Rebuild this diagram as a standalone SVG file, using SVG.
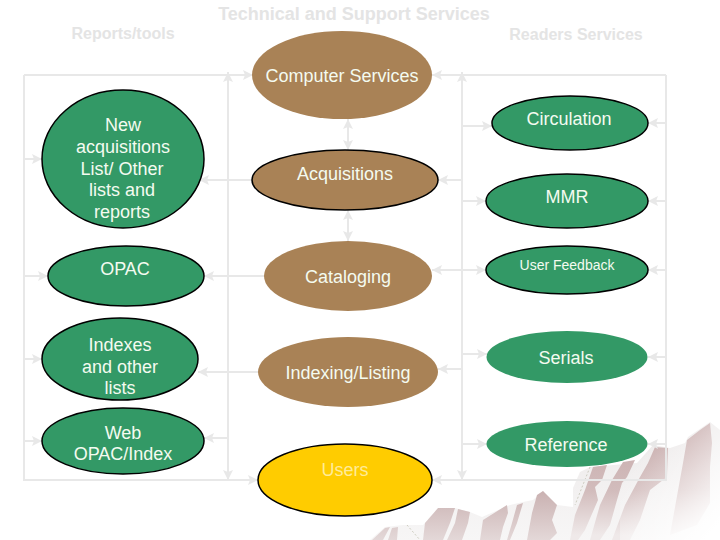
<svg xmlns="http://www.w3.org/2000/svg" width="720" height="540" viewBox="0 0 720 540">
<style>
text{font-family:"Liberation Sans",Arial,sans-serif;fill:#f4fbf0;font-size:18px;text-anchor:middle}
.t{font-weight:bold;fill:#e4e4e4}
.g{fill:#339966}.b{fill:#a98256}.y{fill:#ffcc00}
.s{stroke:#000;stroke-width:1.5}
#connectors path{fill:none;stroke:#e8e8e8;stroke-width:2}
</style>
<defs>
<marker id="a" markerUnits="userSpaceOnUse" markerWidth="11" markerHeight="10" refX="10" refY="5" orient="auto-start-reverse"><path d="M0 0L10 5L0 10L2 5Z" fill="#e8e8e8"/></marker>
<linearGradient id="m" gradientUnits="userSpaceOnUse" x1="0" y1="440" x2="0" y2="540"><stop offset="0" stop-color="#eeebeb"/><stop offset="1" stop-color="#f7f6f6"/></linearGradient>
<linearGradient id="r" gradientUnits="userSpaceOnUse" x1="0" y1="425" x2="0" y2="535"><stop offset="0" stop-color="#c7abab"/><stop offset="0.6" stop-color="#d2bcbc"/><stop offset="1" stop-color="#efe9e9"/></linearGradient>
<linearGradient id="l" gradientUnits="userSpaceOnUse" x1="0" y1="490" x2="0" y2="545"><stop offset="0" stop-color="#c9b0b0"/><stop offset="1" stop-color="#e6dcdc"/></linearGradient>
<linearGradient id="f" gradientUnits="userSpaceOnUse" x1="630" y1="470" x2="710" y2="535"><stop offset="0" stop-color="#fff" stop-opacity="0"/><stop offset="1" stop-color="#fff"/></linearGradient>
</defs>
<g id="mountains">
<path fill="url(#m)" d="M370 540L385 527L403 525L423 525L440 508L455 508L470 512L482 517L510 505L523 502L533 500L543 491L557 505L573 507L573 488L580 472L590 467L637 463L653 445L670 448L685 443L688 437L710 422L720 430V540Z"/>
<g fill="url(#l)">
<path d="M385 528L390 527L383 540H372Z"/><path d="M392 528L398 527L397 540H388Z"/>
<path d="M438 508L455 508L450 523L443 540H423L425 523Z"/>
<path d="M458 509L470 512L468 523L462 540H447L455 523Z"/>
<path d="M507 505L508 513L503 527L500 540H480L483 520Z"/>
<path d="M517 505L523 503L517 523L510 540H507L512 523Z"/>
<path d="M537 495L543 491L557 505L552 520L557 533L550 540H527L532 513Z"/>
</g>
<g fill="url(#r)">
<path d="M593 467L607 465L602 480L595 487L598 500L585 530L578 540H570L575 515L585 490Z"/>
<path d="M623 462L635 460L627 477L622 483L617 500L610 525L600 540H590L600 505L612 480Z"/>
<path d="M655 447L668 448L667 477L650 490L640 520L630 540H612L625 505L640 477L648 463Z"/>
<path d="M700 430L710 423L712 443L710 467L710 503L697 525L670 535L683 463L687 440Z"/>
</g>
<path fill="url(#f)" d="M620 420H720V540H620Z"/>
<path fill="none" stroke="#bba" stroke-width=".7" stroke-dasharray="2 2" d="M590 467L575 505M407 525L420 540"/>
</g>
<g id="titles">
<text class="t" x="354" y="20">Technical and Support Services</text>
<text class="t" x="123" y="39" style="font-size:16px">Reports/tools</text>
<text class="t" x="576" y="40" style="font-size:16px">Readers Services</text>
</g>
<g id="connectors">
<path marker-end="url(#a)" d="M24 75V480H258"/>
<path marker-end="url(#a)" d="M24 75H253"/>
<path marker-end="url(#a)" d="M666 75V480H432"/>
<path marker-end="url(#a)" d="M666 75H432"/>
<path marker-start="url(#a)" marker-end="url(#a)" d="M228 72V480"/>
<path marker-start="url(#a)" marker-end="url(#a)" d="M462 72V480"/>
<path marker-start="url(#a)" marker-end="url(#a)" d="M348 119V150"/>
<path marker-start="url(#a)" marker-end="url(#a)" d="M348 210V241"/>
<path marker-end="url(#a)" d="M24 159H42"/>
<path marker-end="url(#a)" d="M24 276H48"/>
<path marker-end="url(#a)" d="M24 359H42"/>
<path marker-end="url(#a)" d="M24 441H42"/>
<path marker-end="url(#a)" d="M252 180H199"/>
<path marker-end="url(#a)" d="M265 276H204"/>
<path marker-end="url(#a)" d="M259 372H198"/>
<path marker-end="url(#a)" d="M228 438H204"/>
<path marker-end="url(#a)" d="M462 180H438"/>
<path marker-end="url(#a)" d="M462 270H432"/>
<path marker-end="url(#a)" d="M462 369H438"/>
<path marker-end="url(#a)" d="M462 126H492"/>
<path marker-end="url(#a)" d="M462 201H486"/>
<path marker-end="url(#a)" d="M462 270H486"/>
<path marker-end="url(#a)" d="M462 354H487"/>
<path marker-end="url(#a)" d="M462 444H487"/>
<path marker-end="url(#a)" d="M666 123H648"/>
<path marker-end="url(#a)" d="M666 201H648"/>
<path marker-end="url(#a)" d="M666 270H648"/>
<path marker-end="url(#a)" d="M666 357H648"/>
<path marker-end="url(#a)" d="M666 444H648"/>
</g>
<g id="new-acquisitions"><ellipse class="g s" cx="123" cy="159" rx="81" ry="69"/><text x="123" y="131">New</text><text x="123" y="153">acquisitions</text><text x="122" y="175">List/ Other</text><text x="122" y="196">lists and</text><text x="122" y="218">reports</text></g>
<g id="opac"><ellipse class="g s" cx="126" cy="276" rx="78" ry="30"/><text x="125" y="275">OPAC</text></g>
<g id="indexes"><ellipse class="g s" cx="120" cy="359" rx="78" ry="41"/><text x="120" y="351">Indexes</text><text x="120" y="373">and other</text><text x="120" y="394">lists</text></g>
<g id="web-opac"><ellipse class="g s" cx="123" cy="441" rx="81" ry="33"/><text x="123" y="439">Web</text><text x="123" y="460">OPAC/Index</text></g>
<g id="computer-services"><ellipse class="b" cx="342" cy="75" rx="90" ry="44"/><text x="342" y="82">Computer Services</text></g>
<g id="acquisitions"><ellipse class="b s" cx="345" cy="180" rx="93" ry="30"/><text x="345" y="180">Acquisitions</text></g>
<g id="cataloging"><ellipse class="b" cx="348" cy="276" rx="84" ry="35"/><text x="348" y="283">Cataloging</text></g>
<g id="indexing"><ellipse class="b" cx="348" cy="372" rx="90" ry="35"/><text x="348" y="379">Indexing/Listing</text></g>
<g id="users"><ellipse class="y s" cx="345" cy="480" rx="87" ry="36"/><text x="345" y="476" style="fill:#ffeb99">Users</text></g>
<g id="circulation"><ellipse class="g s" cx="570" cy="123" rx="78" ry="27"/><text x="569" y="125">Circulation</text></g>
<g id="mmr"><ellipse class="g s" cx="567" cy="201" rx="81" ry="27"/><text x="567" y="203">MMR</text></g>
<g id="user-feedback"><ellipse class="g s" cx="567" cy="270" rx="81" ry="24"/><text x="567" y="270" style="font-size:14px">User Feedback</text></g>
<g id="serials"><ellipse class="g" cx="567" cy="357" rx="80.5" ry="26"/><text x="566" y="364">Serials</text></g>
<g id="reference"><ellipse class="g" cx="567" cy="444" rx="80.5" ry="23"/><text x="566" y="451">Reference</text></g>
</svg>
